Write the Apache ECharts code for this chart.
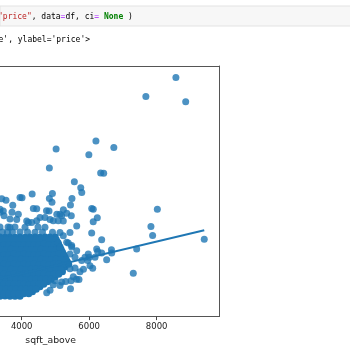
<!DOCTYPE html>
<html>
<head>
<meta charset="utf-8">
<script src="https://cdn.jsdelivr.net/npm/echarts@6/dist/echarts.min.js"></script>
<style>
  html, body { margin: 0; padding: 0; background: #ffffff; }
  #chart { width: 350px; height: 350px; }
</style>
</head>
<body>
<div id="chart"></div>
<script>
// ---- data (sqft_above, price) ----
const xTicks = [4000, 6000, 8000];
const xLabel = 'sqft_above';
const codeLine = ['"price"', ', data', '=', 'df, ci', '=', ' ', 'None', ' )'];
const outputLine = "e', ylabel='price'>";

// scattered houses (outside the dense core)
const outlierPoints = [
  [8570, 7700000], [7680, 7060000], [8860, 6885000], [6200, 5570000], [5020, 5300000],
  [6730, 5350000], [5990, 5110000], [4820, 4670000], [6340, 4500000], [6430, 4490000],
  [5560, 4210000], [5750, 4010000], [5780, 3850000], [4910, 3810000], [4820, 3650000],
  [4310, 3800000], [3950, 3680000], [4010, 3670000], [3410, 3640000], [3535, 3590000],
  [5490, 3650000], [5445, 3430000], [3735, 3420000], [6075, 3310000], [4345, 3310000],
  [4445, 3300000], [4735, 3240000], [4810, 3230000], [5235, 3270000], [8020, 3290000],
  [5040, 3120000], [5185, 3070000], [5335, 3150000], [6240, 3000000], [6120, 2870000],
  [3455, 3230000], [3476, 3070000], [3357, 3290000], [3900, 3120000], [3852, 2940000],
  [3653, 2960000], [4542, 3010000], [4690, 3010000], [4839, 2940000], [4148, 2890000],
  [4296, 2840000], [4444, 2900000], [5084, 2900000], [5233, 2890000], [5630, 2730000],
  [5431, 2510000], [6074, 2490000], [5135, 2510000], [5233, 2400000], [6370, 2270000],
  [5333, 2180000], [5481, 2070000], [6222, 1960000], [7830, 2710000], [7880, 2410000],
  [9410, 2280000], [7407, 1960000], [6660, 1935000], [6667, 1825000], [6370, 1820000],
  [6252, 1875000], [6518, 1600000], [7307, 1143000], [6003, 1682000], [5876, 1680000],
  [6172, 1684000], [6104, 1309000], [5831, 1282000], [5698, 936000], [5624, 940000],
  [5446, 627000], [5461, 893000], [5185, 850000], [4839, 577000], [4741, 494000],
  [5381, 2158000], [5084, 2160000], [5135, 2015000], [5579, 1680000], [5431, 1791000],
  [4987, 890000], [4936, 760000], [5778, 1569000], [5956, 1570000], [5481, 2024000],
  [5630, 1901000], [5431, 1292000], [5579, 1320000], [6024, 1392000], [5727, 1192000],
  [5529, 1026000], [5304, 870000], [5135, 737000], [5470, 3066000], [5135, 3120000],
  [5973, 1791000], [3594, 2690000], [4898, 3522000], [6121, 3290000], [3357, 3189000],
  [3713, 3190000], [4196, 2846000], [4936, 2900000],
  [3357, 2690000], [3653, 2685000], [3801, 2695000], [4098, 2688000], [4483, 2692000], [4690, 2686000],
  [3431, 2524000], [3579, 2520000], [3727, 2528000], [3950, 2522000], [4172, 2526000], [4394, 2519000], [4616, 2525000], [4913, 2521000]
];

// dense core of ordinary houses, read row by row (thousands of overlapping dots)
const denseCore = [
  [3357, 2360000], [3508, 2350000], [3650, 2362000], [3805, 2352000], [3948, 2358000], [4100, 2349000],
  [4243, 2361000], [4397, 2355000], [4540, 2350000], [4693, 2362000], [4836, 2354000], [4990, 2358000],
  [3431, 2191000], [3582, 2185000], [3727, 2196000], [3874, 2188000], [4024, 2193000], [4170, 2186000],
  [4320, 2194000], [4466, 2189000], [4616, 2192000], [4766, 2186000], [4913, 2195000], [5061, 2190000],
  [3357, 2024000], [3505, 2030000], [3655, 2020000], [3801, 2027000], [3950, 2021000], [4096, 2028000],
  [4246, 2022000], [4394, 2026000], [4544, 2019000], [4690, 2025000], [4839, 2023000], [4985, 2029000], [5135, 2020000],
  [3431, 1858000], [3579, 1862000], [3729, 1855000], [3876, 1860000], [4024, 1856000], [4174, 1861000],
  [4320, 1854000], [4468, 1859000], [4616, 1862000], [4764, 1856000], [4913, 1860000], [5063, 1853000], [5209, 1858000],
  [3357, 1692000], [3505, 1688000], [3653, 1695000], [3803, 1690000], [3950, 1694000], [4098, 1687000], [4246, 1693000],
  [4394, 1689000], [4542, 1696000], [4692, 1690000], [4839, 1692000], [4987, 1688000], [5135, 1694000], [5283, 1690000],
  [3431, 1525000], [3579, 1529000], [3727, 1522000], [3876, 1527000], [4024, 1523000], [4172, 1528000], [4320, 1521000],
  [4468, 1526000], [4616, 1524000], [4764, 1529000], [4913, 1522000], [5061, 1527000], [5209, 1523000], [5357, 1526000],
  [3357, 1359000], [3505, 1362000], [3653, 1356000], [3801, 1360000], [3950, 1355000], [4098, 1361000], [4246, 1357000],
  [4394, 1362000], [4542, 1358000], [4690, 1356000], [4839, 1361000], [4987, 1357000], [5135, 1360000], [5283, 1355000],
  [3431, 1193000], [3579, 1190000], [3727, 1196000], [3876, 1191000], [4024, 1195000], [4172, 1189000], [4320, 1194000],
  [4468, 1192000], [4616, 1196000], [4764, 1190000], [4913, 1194000], [5061, 1191000], [5209, 1195000],
  [3357, 1026000], [3505, 1029000], [3653, 1023000], [3801, 1027000], [3950, 1025000], [4098, 1030000],
  [4246, 1024000], [4394, 1028000], [4542, 1022000], [4690, 1027000], [4839, 1025000], [4987, 1029000],
  [3431, 860000], [3579, 864000], [3727, 857000], [3876, 862000], [4024, 858000], [4172, 863000],
  [4320, 859000], [4468, 861000], [4616, 856000], [4764, 862000],
  [3357, 693000], [3505, 690000], [3653, 696000], [3801, 691000], [3950, 694000], [4098, 689000],
  [4246, 695000], [4394, 692000], [4542, 690000],
  [3431, 527000], [3579, 530000], [3727, 524000], [3876, 528000], [4024, 525000], [4172, 529000], [4320, 526000],
  [3357, 377000], [3505, 380000], [3653, 374000], [3801, 378000], [3950, 376000]
];

// more houses packed between the rows of the core
const denseFill = [
  [3394, 2274000], [3542, 2271000], [3690, 2277000], [3838, 2272000], [3987, 2276000], [4135, 2270000],
  [4283, 2275000], [4431, 2273000], [4579, 2278000], [4727, 2271000], [4876, 2274000], [5024, 2276000],
  [3468, 2108000], [3616, 2105000], [3764, 2111000], [3913, 2106000], [4061, 2110000], [4209, 2104000],
  [4357, 2109000], [4505, 2107000], [4653, 2112000], [4801, 2105000], [4950, 2108000], [5098, 2110000],
  [3394, 1941000], [3542, 1938000], [3690, 1944000], [3838, 1939000], [3987, 1943000], [4135, 1937000], [4283, 1942000],
  [4431, 1940000], [4579, 1945000], [4727, 1938000], [4876, 1941000], [5024, 1943000], [5172, 1939000],
  [3468, 1775000], [3616, 1772000], [3764, 1778000], [3913, 1773000], [4061, 1777000], [4209, 1771000], [4357, 1776000],
  [4505, 1774000], [4653, 1779000], [4801, 1772000], [4950, 1775000], [5098, 1777000], [5246, 1773000],
  [3394, 1608000], [3542, 1605000], [3690, 1611000], [3838, 1606000], [3987, 1610000], [4135, 1604000], [4283, 1609000],
  [4431, 1607000], [4579, 1612000], [4727, 1605000], [4876, 1608000], [5024, 1610000], [5172, 1606000], [5320, 1609000],
  [3468, 1442000], [3616, 1439000], [3764, 1445000], [3913, 1440000], [4061, 1444000], [4209, 1438000], [4357, 1443000],
  [4505, 1441000], [4653, 1446000], [4801, 1439000], [4950, 1442000], [5098, 1444000], [5246, 1440000], [5394, 1443000],
  [3394, 1276000], [3542, 1273000], [3690, 1279000], [3838, 1274000], [3987, 1278000], [4135, 1272000], [4283, 1277000],
  [4431, 1275000], [4579, 1280000], [4727, 1273000], [4876, 1276000], [5024, 1278000], [5172, 1274000],
  [3468, 1109000], [3616, 1106000], [3764, 1112000], [3913, 1107000], [4061, 1111000], [4209, 1105000],
  [4357, 1110000], [4505, 1108000], [4653, 1113000], [4801, 1106000], [4950, 1109000], [5098, 1111000],
  [3394, 943000], [3542, 940000], [3690, 946000], [3838, 941000], [3987, 945000], [4135, 939000],
  [4283, 944000], [4431, 942000], [4579, 947000], [4727, 940000], [4876, 943000],
  [3468, 776000], [3616, 773000], [3764, 779000], [3913, 774000], [4061, 778000], [4209, 772000],
  [4357, 777000], [4505, 775000], [4653, 780000],
  [3394, 610000], [3542, 607000], [3690, 613000], [3838, 608000], [3987, 612000], [4135, 606000],
  [4283, 611000], [4431, 609000],
  [3468, 460000], [3616, 457000], [3764, 463000], [3913, 458000], [4061, 462000], [4209, 456000]
];

// fitted regression line (seaborn regplot, ci=None), ends of the data range
const regSqft = [290, 9410];
const regPrice = [137800, 2586500];

// ---- chart ----
const chart = echarts.init(document.getElementById('chart'), null, { renderer: 'canvas' });
const regLine = regSqft.map((x, i) => [x, regPrice[i]]);
const spine = { color: '#555555', width: 1 };

chart.setOption({
  animation: false,
  backgroundColor: '#ffffff',
  grid: { left: 0, right: 130.7, top: 66, bottom: 31.7 },
  xAxis: [
    {
      type: 'value', min: 3357, max: 9856,
      name: xLabel, nameLocation: 'middle', nameGap: 17,
      nameTextStyle: { fontFamily: 'DejaVu Sans', fontSize: 9.3, color: '#222222', padding: [0, 118, 0, 0] },
      axisLine: { show: true, onZero: false, lineStyle: spine },
      axisTick: { show: true, length: 3.5, customValues: xTicks, lineStyle: { color: '#444444', width: 1 } },
      axisLabel: {
        fontFamily: 'DejaVu Sans', fontSize: 8.5, color: '#222222', margin: 5.5,
        customValues: xTicks, formatter: v => String(v)
      },
      splitLine: { show: false }
    },
    {
      type: 'value', position: 'top', min: 3357, max: 9856,
      axisLine: { show: true, onZero: false, lineStyle: spine },
      axisTick: { show: false }, axisLabel: { show: false }, splitLine: { show: false }
    }
  ],
  yAxis: [
    {
      type: 'value', min: -306000, max: 8081000,
      axisLine: { show: false, onZero: false }, axisTick: { show: false },
      axisLabel: { show: false }, splitLine: { show: false }
    },
    {
      type: 'value', position: 'right', min: -306000, max: 8081000,
      axisLine: { show: true, onZero: false, lineStyle: spine }, axisTick: { show: false },
      axisLabel: { show: false }, splitLine: { show: false }
    }
  ],
  series: [
    {
      name: 'price', type: 'scatter', data: denseCore.concat(denseFill), symbolSize: 7,
      itemStyle: { color: '#1f77b4', opacity: 1 }, z: 2
    },
    {
      name: 'price', type: 'scatter', data: outlierPoints, symbolSize: 7,
      itemStyle: { color: '#1f77b4', opacity: 0.8 }, z: 2
    },
    {
      type: 'line', data: regLine, showSymbol: false, symbol: 'none',
      lineStyle: { color: '#1f77b4', width: 2 }, z: 3
    }
  ],
  graphic: [
    {
      type: 'rect', z: 0,
      shape: { x: 0, y: 6, width: 352, height: 20 },
      style: { fill: '#f7f7f7', stroke: '#e3e3e3', lineWidth: 1 }
    },
    {
      type: 'text', x: -2, y: 16.5, z: 10,
      style: {
        text: '{s|' + codeLine[0] + '}{k|' + codeLine[1] + '}{o|' + codeLine[2] + '}{k|' + codeLine[3] +
              '}{o|' + codeLine[4] + '}{k|' + codeLine[5] + '}{n|' + codeLine[6] + '}{k|' + codeLine[7] + '}',
        verticalAlign: 'middle',
        font: '8px "DejaVu Sans Mono"',
        rich: {
          s: { fill: '#ba2121', font: '8px "DejaVu Sans Mono"' },
          k: { fill: '#000000', font: '8px "DejaVu Sans Mono"' },
          o: { fill: '#aa22ff', font: '8px "DejaVu Sans Mono"' },
          n: { fill: '#008000', font: 'bold 8px "DejaVu Sans Mono"' }
        }
      }
    },
    {
      type: 'text', x: -1.5, y: 40, z: 10,
      style: {
        text: outputLine, verticalAlign: 'middle',
        font: '8px "DejaVu Sans Mono"', fill: '#000000'
      }
    }
  ]
});
</script>
</body>
</html>
